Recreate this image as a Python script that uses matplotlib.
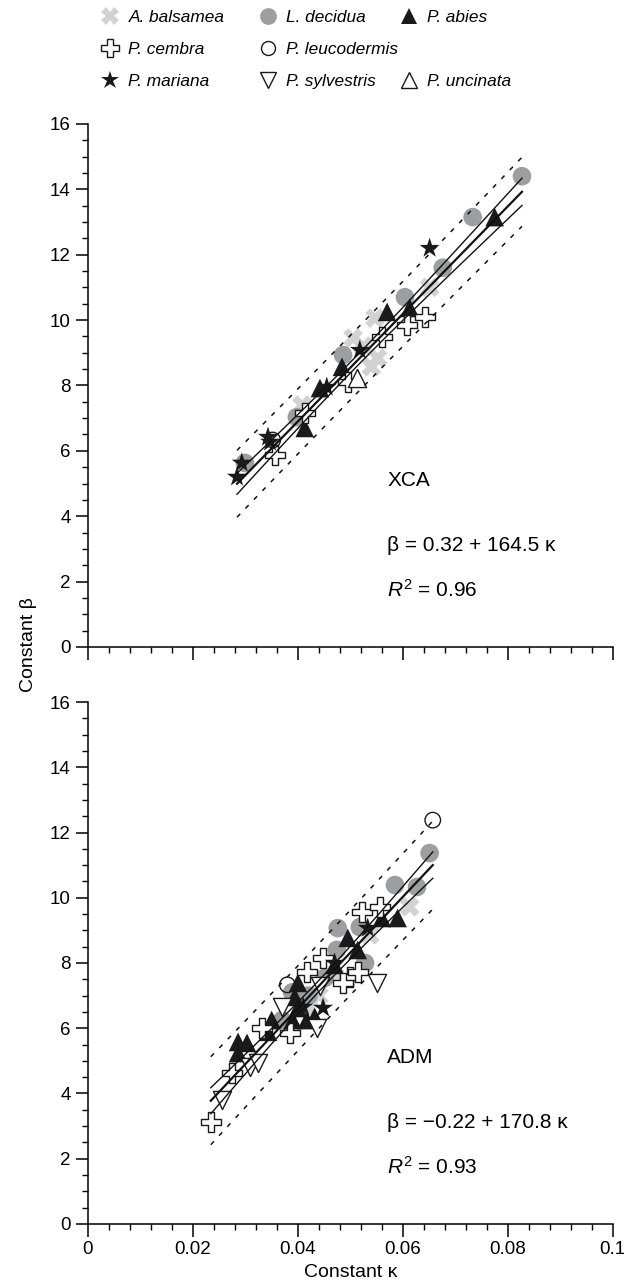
import numpy as np
import matplotlib
matplotlib.use("Agg")
import matplotlib.pyplot as plt
from matplotlib.lines import Line2D
from matplotlib.ticker import MultipleLocator

plt.rcParams["font.family"] = ["Liberation Sans", "DejaVu Sans"]
plt.rcParams["mathtext.fontset"] = "custom"
plt.rcParams["mathtext.rm"] = "Liberation Sans"
plt.rcParams["mathtext.it"] = "Liberation Sans:italic"

SPECIES = ["A. balsamea", "L. decidua", "P. abies", "P. cembra", "P. leucodermis",
           "P. mariana", "P. sylvestris", "P. uncinata"]

# XCA panel (kappa, beta) per species
XCA_K = {
    "A. balsamea": [0.0408, 0.0505, 0.0547, 0.0552, 0.0540, 0.0651, 0.0525],
    "L. decidua": [0.0299, 0.0398, 0.0486, 0.0604, 0.0676, 0.0733, 0.0827],
    "P. abies": [0.0413, 0.0442, 0.0484, 0.0570, 0.0613, 0.0775],
    "P. cembra": [0.0356, 0.0413, 0.0495, 0.0560, 0.0608, 0.0642],
    "P. leucodermis": [0.0352],
    "P. mariana": [0.0284, 0.0293, 0.0343, 0.0347, 0.0455, 0.0518, 0.0651],
    "P. sylvestris": [],
    "P. uncinata": [0.0512],
}
XCA_B = {
    "A. balsamea": [7.40, 9.45, 10.06, 8.84, 8.57, 11.0, 9.2],
    "L. decidua": [5.63, 7.03, 8.93, 10.70, 11.60, 13.15, 14.40],
    "P. abies": [6.70, 7.92, 8.57, 10.25, 10.37, 13.15],
    "P. cembra": [5.87, 7.15, 8.10, 9.49, 9.85, 10.10],
    "P. leucodermis": [6.33],
    "P. mariana": [5.20, 5.63, 6.42, 6.27, 7.95, 9.08, 12.20],
    "P. sylvestris": [],
    "P. uncinata": [8.23],
}

# ADM panel
ADM_K = {
    "A. balsamea": [0.0613, 0.0537, 0.0440, 0.0470, 0.0420],
    "L. decidua": [0.0651, 0.0585, 0.0627, 0.0476, 0.0518, 0.0528, 0.0474,
                   0.0451, 0.0389, 0.0370, 0.0420],
    "P. abies": [0.0590, 0.0560, 0.0514, 0.0495, 0.0470, 0.0400, 0.0394, 0.0400,
                 0.0417, 0.0390, 0.0432, 0.0350, 0.0343, 0.0286, 0.0303, 0.0286],
    "P. cembra": [0.0234, 0.0274, 0.0331, 0.0385, 0.0417, 0.0448, 0.0499,
                  0.0514, 0.0486, 0.0522, 0.0556],
    "P. leucodermis": [0.0657, 0.0380],
    "P. mariana": [0.0533, 0.0470, 0.0410, 0.0448],
    "P. sylvestris": [0.0255, 0.0309, 0.0324, 0.0370, 0.0436, 0.0550, 0.0442],
    "P. uncinata": [],
}
ADM_B = {
    "A. balsamea": [9.72, 8.86, 7.00, 7.60, 6.60],
    "L. decidua": [11.37, 10.39, 10.33, 9.07, 9.10, 8.00, 8.40,
                   7.54, 7.10, 6.25, 7.00],
    "P. abies": [9.38, 9.38, 8.40, 8.77, 7.94, 7.39, 6.96, 6.62,
                 6.25, 6.25, 6.35, 6.25, 5.89, 5.58, 5.55, 5.24],
    "P. cembra": [3.13, 4.63, 6.00, 5.85, 7.72, 8.15, 7.57,
                  7.72, 7.39, 9.57, 9.72],
    "P. leucodermis": [12.38, 7.33],
    "P. mariana": [9.07, 8.00, 6.65, 6.62],
    "P. sylvestris": [3.80, 4.81, 4.94, 6.65, 6.00, 7.39, 7.30],
    "P. uncinata": [],
}

XCA_FIT = (0.32, 164.5, 0.96)
ADM_FIT = (-0.22, 170.8, 0.93)

STYLE = {
    "A. balsamea": dict(marker="X", facecolor="#d2d2d2", edgecolor="none", s=200),
    "L. decidua": dict(marker="o", facecolor="#9b9fa2", edgecolor="none", s=180),
    "P. abies": dict(marker="^", facecolor="#1a1a1a", edgecolor="none", s=180),
    "P. cembra": dict(marker="P", facecolor="white", edgecolor="#1a1a1a", s=210, linewidths=1.0),
    "P. leucodermis": dict(marker="o", facecolor="none", edgecolor="#1a1a1a", s=125, linewidths=1.0),
    "P. mariana": dict(marker="*", facecolor="#1a1a1a", edgecolor="none", s=230),
    "P. sylvestris": dict(marker="v", facecolor="white", edgecolor="#1a1a1a", s=170, linewidths=1.0),
    "P. uncinata": dict(marker="^", facecolor="white", edgecolor="#1a1a1a", s=170, linewidths=1.0),
}


def draw_panel(ax, ks, bs, fit, name, eq_text):
    for sp in SPECIES:
        if ks[sp]:
            ax.scatter(ks[sp], bs[sp], zorder=2, **STYLE[sp])

    x = np.concatenate([ks[sp] for sp in SPECIES if ks[sp]])
    y = np.concatenate([bs[sp] for sp in SPECIES if bs[sp]])
    a, b, _ = fit
    n = len(x)
    s = np.sqrt(np.sum((y - (a + b * x)) ** 2) / (n - 2))
    xm = x.mean()
    sxx = np.sum((x - xm) ** 2)
    xs = np.linspace(x.min(), x.max(), 100)
    yc = a + b * xs
    ci = 2.0 * s * np.sqrt(1 / n + (xs - xm) ** 2 / sxx)
    pi = 2.0 * s * np.sqrt(1 + 1 / n + (xs - xm) ** 2 / sxx)

    ax.plot(xs, yc, color="#111111", lw=1.6, zorder=3)
    ax.plot(xs, yc + ci, color="#111111", lw=1.0, zorder=3)
    ax.plot(xs, yc - ci, color="#111111", lw=1.0, zorder=3)
    ax.plot(xs, yc + pi, color="#111111", lw=1.1, ls=(0, (3, 5)), zorder=3)
    ax.plot(xs, yc - pi, color="#111111", lw=1.1, ls=(0, (3, 5)), zorder=3)

    ax.set_xlim(0, 0.1)
    ax.set_ylim(0, 16)
    ax.xaxis.set_major_locator(MultipleLocator(0.02))
    ax.xaxis.set_minor_locator(MultipleLocator(0.004))
    ax.yaxis.set_major_locator(MultipleLocator(2))
    ax.yaxis.set_minor_locator(MultipleLocator(0.5))
    ax.xaxis.set_major_formatter(lambda v, pos: "%g" % round(v, 3))
    for side in ("top", "right"):
        ax.spines[side].set_visible(False)
    for side in ("left", "bottom"):
        ax.spines[side].set_linewidth(1.1)
    ax.tick_params(which="major", direction="out", length=9, width=1.1, labelsize=13.5)
    ax.tick_params(which="minor", direction="out", length=4.5, width=1.0)

    ax.text(0.057, 5.1, name, fontsize=15, va="center")
    ax.text(0.057, 3.1, eq_text, fontsize=15, va="center")
    ax.text(0.057, 1.75, r"$\mathit{R}^2$ = %.2f" % fit[2], fontsize=15, va="center")


fig = plt.figure(figsize=(6.24, 12.87), dpi=100)
ax_top = fig.add_axes([0.141, 0.4973, 0.841, 0.4064])
ax_bot = fig.add_axes([0.141, 0.0490, 0.841, 0.4055])

draw_panel(ax_top, XCA_K, XCA_B, XCA_FIT, "XCA", "β = 0.32 + 164.5 κ")
draw_panel(ax_bot, ADM_K, ADM_B, ADM_FIT, "ADM", "β = −0.22 + 170.8 κ")
ax_top.tick_params(labelbottom=False)

ax_bot.set_xlabel("Constant κ", fontsize=14, labelpad=4)
fig.text(0.045, 0.499, "Constant β", rotation=90, fontsize=14, ha="center", va="center")


# legend: three separate columns, as in the original
def proxy(sp):
    st = STYLE[sp]
    return Line2D([], [], ls="none", marker=st["marker"], markersize=np.sqrt(st["s"]) * 0.9,
                  markerfacecolor=st["facecolor"], markeredgecolor=st["edgecolor"],
                  markeredgewidth=st.get("linewidths", 0))


LEGEND_COLUMNS = [
    ["A. balsamea", "P. cembra", "P. mariana"],
    ["L. decidua", "P. leucodermis", "P. sylvestris"],
    ["P. abies", None, "P. uncinata"],
]
col_x = [0.163, 0.416, 0.641]
for cx, col in zip(col_x, LEGEND_COLUMNS):
    handles = [proxy(sp) if sp else Line2D([], [], ls="none") for sp in col]
    labels = [sp if sp else "" for sp in col]
    leg = fig.legend(handles, labels, loc="upper left", bbox_to_anchor=(cx, 0.992),
                     frameon=False, fontsize=12.4, handlelength=1.0, handletextpad=0.55,
                     labelspacing=0.98, borderaxespad=0, borderpad=0)
    for t in leg.get_texts():
        t.set_fontstyle("italic")

fig.savefig("out.png", dpi=100)
